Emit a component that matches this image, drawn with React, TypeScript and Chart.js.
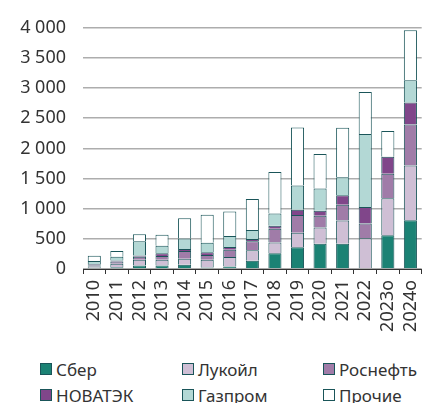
import React, { useEffect, useRef } from "react";
import { Chart, registerables } from "chart.js";

Chart.register(...registerables);

const categories = ["2010", "2011", "2012", "2013", "2014", "2015", "2016", "2017", "2018", "2019", "2020", "2021", "2022", "2023о", "2024о"];
const sber = [20, 30, 59, 59, 70, 26, 42, 135, 260, 359, 418, 418, null, 559, 809];
const lukoil = [20, 55, 93, 93, 98, 126, 158, 175, 178, 244, 272, 386, 510, 615, 907];
const rosneft = [20, 40, 53, 65, 130, 81, 120, 151, 228, 294, 195, 260, 245, 407, 680];
const novatek = [18, 15, 17, 44, 33, 44, 43, 38, 53, 86, 82, 158, 272, 282, 364];
const gazprom = [55, 65, 239, 124, 174, 157, 185, 147, 200, 403, 370, 299, 1211, null, 370];
const prochie = [87, 93, 114, 185, 336, 467, 407, 516, 689, 961, 570, 820, 696, 424, 831];

const seriesNames = ["Сбер", "Лукойл", "Роснефть", "НОВАТЭК", "Газпром", "Прочие"];
const seriesColors = ["#1b8274", "#cfbfd5", "#a07ca8", "#80468a", "#b3d8d5", "#ffffff"];
const seriesData = [sber, lukoil, rosneft, novatek, gazprom, prochie];

const BORDER = "#1a5559";
const FONT = "'Noto Sans', 'Open Sans', sans-serif";
const TEXT = "#333333";

const fmt = (v: number) => String(v).replace(/\B(?=(\d{3})+(?!\d))/g, " ");

export default function App() {
  const ref = useRef<HTMLCanvasElement | null>(null);

  useEffect(() => {
    if (!ref.current) return;
    const chart = new Chart(ref.current, {
      type: "bar",
      data: {
        labels: categories,
        datasets: seriesData.map((d, i) => ({
          label: seriesNames[i],
          data: d,
          backgroundColor: seriesColors[i],
          borderColor: BORDER,
          borderWidth: 1,
          barPercentage: 0.58,
          categoryPercentage: 1,
        })),
      },
      options: {
        animation: false,
        responsive: false,
        maintainAspectRatio: false,
        layout: { padding: { top: 21, left: 0, right: 0, bottom: 0 } },
        plugins: { legend: { display: false }, tooltip: { enabled: false } },
        scales: {
          x: {
            stacked: true,
            afterFit: (s: any) => {
              s.height = 345 - 269;
            },
            grid: {
              display: true,
              drawOnChartArea: false,
              drawTicks: true,
              tickLength: 5,
              color: TEXT,
              offset: true,
            },
            border: { display: true, color: TEXT, width: 1 },
            ticks: {
              maxRotation: 90,
              minRotation: 90,
              autoSkip: false,
              padding: 6,
              color: TEXT,
              font: { family: FONT, size: 18 },
            },
          },
          y: {
            stacked: true,
            min: 0,
            max: 4000,
            afterFit: (s: any) => {
              s.width = 83;
            },
            ticks: {
              stepSize: 500,
              padding: 17,
              color: TEXT,
              font: { family: FONT, size: 18 },
              callback: (v: any) => fmt(Number(v)),
            },
            grid: { color: "#adadad", lineWidth: 1.5, drawTicks: false },
            border: { display: false },
          },
        },
      },
    });
    return () => chart.destroy();
  }, []);

  const cols = [40, 182, 323];
  const rows = [369, 395];

  return (
    <div style={{ position: "absolute", left: 0, top: 0, width: 433, height: 403, overflow: "hidden", background: "#fff", fontFamily: FONT }}>
      <canvas ref={ref} width={438} height={345} style={{ position: "absolute", left: 0, top: 0, width: 438, height: 345 }} />
      {seriesNames.map((n, i) => (
        <div
          key={n}
          style={{
            position: "absolute",
            left: cols[i % 3],
            top: rows[Math.floor(i / 3)] - 12,
            height: 24,
            display: "flex",
            alignItems: "center",
            fontSize: 17,
            color: TEXT,
            whiteSpace: "nowrap",
          }}
        >
          <span
            style={{
              display: "inline-block",
              width: 10,
              height: 10,
              background: seriesColors[i],
              border: `1px solid ${BORDER}`,
              marginRight: 4,
            }}
          />
          {n}
        </div>
      ))}
    </div>
  );
}
